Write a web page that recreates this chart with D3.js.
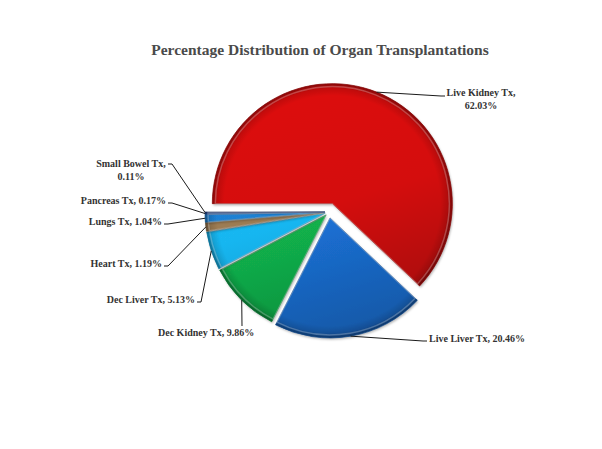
<!DOCTYPE html>
<html>
<head>
<meta charset="utf-8">
<script src="https://cdn.jsdelivr.net/npm/d3@7"></script>
<style>
  body { margin: 0; background: #fff; }
  text { font-family: "Liberation Serif", "Times New Roman", serif; font-weight: bold; }
</style>
</head>
<body>
<div id="chart"></div>
<script>
// data
const categories = ["Live Kidney Tx", "Live Liver Tx", "Dec Kidney Tx", "Dec Liver Tx",
    "Heart Tx", "Lungs Tx", "Pancreas Tx", "Small Bowel Tx"];
const percentages = [62.03, 20.46, 9.86, 5.13, 1.19, 1.04, 0.17, 0.11];
const title = "Percentage Distribution of Organ Transplantations";

// styling / layout
const colors = ["#d40e0e", "#1b70d4", "#12b24c", "#19b6f0", "#9c7b52", "#1f80d2", "#2a5fb8", "#1c3d86"];
const explode = [9, 6, 4, 4, 4, 4, 4, 4];
// label boxes: x, y = first baseline, anchor, leader end point (tx, ty)
const labelPos = [
    {x: 481, y: 96, anchor: "middle", tx: 445, ty: 96, wrap: true},
    {x: 429, y: 342, anchor: "start", tx: 427, ty: 341},
    {x: 158, y: 336, anchor: "start", tx: 242, ty: 326, vertical: true},
    {x: 195, y: 303, anchor: "end", tx: 197, ty: 302},
    {x: 162, y: 267, anchor: "end", tx: 164, ty: 266},
    {x: 162, y: 225, anchor: "end", tx: 164, ty: 224},
    {x: 166, y: 204, anchor: "end", tx: 168, ty: 203},
    {x: 131, y: 167, anchor: "middle", tx: 168, ty: 164, wrap: true}
];

const width = 602, height = 449;
const cx = 329, cy = 212, radius = 120;

const svg = d3.select("#chart").append("svg")
    .attr("width", width)
    .attr("height", height);

svg.append("rect").attr("width", width).attr("height", height).attr("fill", "#fff");

const defs = svg.append("defs");
defs.append("filter").attr("id", "shadow")
    .attr("x", "-20%").attr("y", "-20%").attr("width", "140%").attr("height", "140%")
    .append("feDropShadow")
    .attr("dx", 1).attr("dy", 1.5).attr("stdDeviation", 1.2)
    .attr("flood-color", "#000").attr("flood-opacity", 0.3);

// vertical light-to-dark fill per slice
colors.forEach((c, i) => {
    const g = defs.append("linearGradient")
        .attr("id", "grad" + i)
        .attr("gradientUnits", "userSpaceOnUse")
        .attr("x1", -radius * 0.3).attr("y1", -radius).attr("x2", radius * 0.3).attr("y2", radius);
    const base = d3.color(c);
    g.append("stop").attr("offset", "0%").attr("stop-color", base.brighter(0.12));
    g.append("stop").attr("offset", "50%").attr("stop-color", base);
    g.append("stop").attr("offset", "100%").attr("stop-color", base.darker(0.7));
});

// darkened rim
const rim = defs.append("radialGradient")
    .attr("id", "rim")
    .attr("gradientUnits", "userSpaceOnUse")
    .attr("cx", 0).attr("cy", 0).attr("r", radius);
rim.append("stop").attr("offset", "0%").attr("stop-color", "#000").attr("stop-opacity", 0);
rim.append("stop").attr("offset", "90%").attr("stop-color", "#000").attr("stop-opacity", 0);
rim.append("stop").attr("offset", "96%").attr("stop-color", "#000").attr("stop-opacity", 0.12);
rim.append("stop").attr("offset", "100%").attr("stop-color", "#000").attr("stop-opacity", 0.4);

// title
svg.append("text")
    .attr("x", 320).attr("y", 55)
    .attr("text-anchor", "middle")
    .attr("font-size", 15.5)
    .attr("fill", "#4a4a4a")
    .text(title);

const data = categories.map((name, i) => ({name, value: percentages[i], i}));

const pie = d3.pie()
    .sort(null)
    .value(d => d.value)
    .startAngle(-Math.PI / 2)
    .endAngle(Math.PI * 1.5);

const arcs = pie(data);
const arc = d3.arc().innerRadius(0).outerRadius(radius);
const bevel = d3.arc().innerRadius(0).outerRadius(radius - 3);

// offset of each exploded slice
function sliceCenter(a) {
    const mid = (a.startAngle + a.endAngle) / 2;
    const e = explode[a.data.i];
    return [cx + e * Math.sin(mid), cy - e * Math.cos(mid)];
}

const slices = svg.append("g")
    .selectAll("g")
    .data(arcs)
    .join("g")
    .attr("transform", d => `translate(${sliceCenter(d)})`);

slices.append("path")
    .attr("d", arc)
    .attr("fill", d => `url(#grad${d.data.i})`)
    .attr("filter", "url(#shadow)");

slices.append("path")
    .attr("d", arc)
    .attr("fill", "url(#rim)")
    .attr("stroke", d => d3.color(colors[d.data.i]).darker(1.3))
    .attr("stroke-width", 0.7);

slices.append("path")
    .attr("d", bevel)
    .attr("fill", "none")
    .attr("stroke", "rgba(255,255,255,0.25)")
    .attr("stroke-width", 1.5);

// leader lines
const leaders = svg.append("g");
arcs.forEach(a => {
    const p = labelPos[a.data.i];
    const mid = (a.startAngle + a.endAngle) / 2;
    const [sx, sy] = sliceCenter(a);
    const ax = sx + radius * Math.sin(mid), ay = sy - radius * Math.cos(mid);
    let pts;
    if (p.vertical) {
        pts = [[ax, ay], [p.tx, p.ty]];
    } else {
        const dir = p.tx > ax ? -1 : 1;
        pts = [[ax, ay], [p.tx + dir * 4, p.ty], [p.tx, p.ty]];
    }
    leaders.append("path")
        .attr("d", d3.line()(pts))
        .attr("fill", "none")
        .attr("stroke", "#1a1a1a")
        .attr("stroke-width", 1);
});

// labels
const labels = svg.append("g")
    .selectAll("text")
    .data(arcs)
    .join("text")
    .attr("font-size", 10)
    .attr("fill", "#333")
    .attr("text-anchor", d => labelPos[d.data.i].anchor)
    .attr("x", d => labelPos[d.data.i].x)
    .attr("y", d => labelPos[d.data.i].y);

labels.each(function(d) {
    const p = labelPos[d.data.i];
    const pct = d.data.value.toFixed(2) + "%";
    const t = d3.select(this);
    if (p.wrap) {
        t.append("tspan").attr("x", p.x).text(d.data.name + ",");
        t.append("tspan").attr("x", p.x).attr("dy", 13).text(pct);
    } else {
        t.text(d.data.name + ", " + pct);
    }
});
</script>
</body>
</html>
